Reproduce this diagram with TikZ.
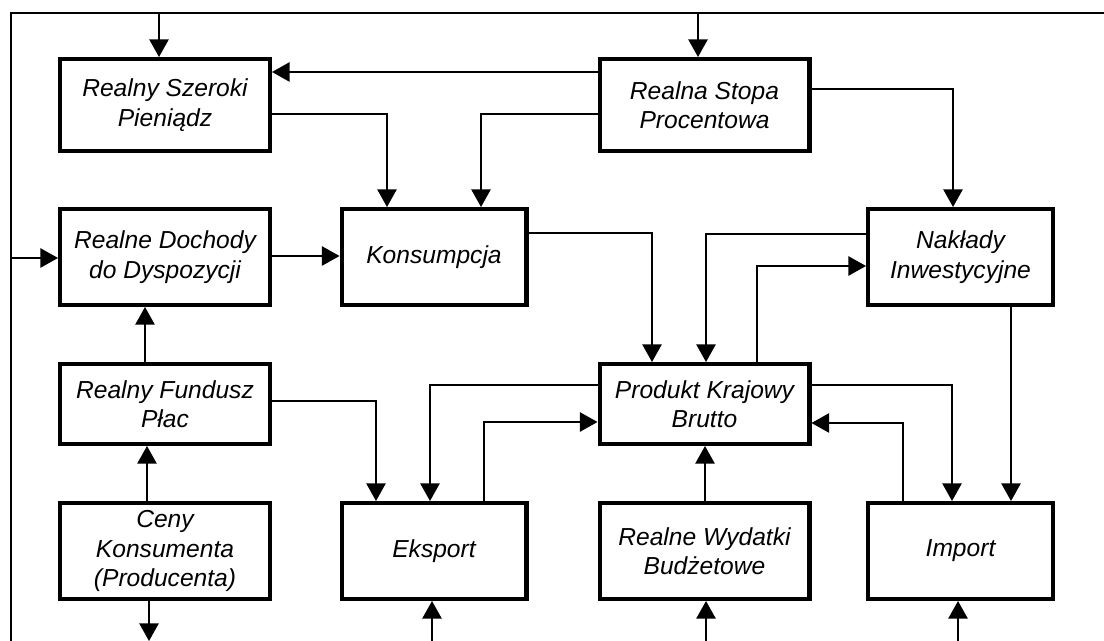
\documentclass[tikz,border=0pt]{standalone}
\usepackage{fontspec}
\setmainfont{Liberation Sans}
\usetikzlibrary{arrows.meta,calc}

\begin{document}
\begin{tikzpicture}[x=0.02cm, y=-0.02cm,
    box/.style={draw, line width=2.3pt, inner sep=0pt, align=center,
        font=\fontsize{14pt}{16.8pt}\selectfont\itshape},
    wide/.style={box, minimum width=4.2cm},
    narrow/.style={box, minimum width=3.7cm},
    arr/.style={line width=0.7pt, -{Triangle[length=10pt,width=11pt]}}]
    \useasboundingbox (0,0) rectangle (1104,641);

    % frame
    \coordinate (tl) at (11,13);
    \draw[line width=0.85pt] (1104,13) -- (tl) -- (11,641);

    % blocks
    \node[wide, minimum height=1.84cm] (rsp) at (165,105) {Realny Szeroki\\Pieniądz};
    \node[wide, minimum height=1.84cm] (rsproc) at (704.5,105) {Realna Stopa\\Procentowa};
    \node[wide, minimum height=1.92cm] (rdd) at (165,257) {Realne Dochody\\do Dyspozycji};
    \node[narrow, minimum height=1.92cm] (kons) at (434,257) {Konsumpcja};
    \node[narrow, minimum height=1.92cm] (inw) at (960.5,257) {Nakłady\\Inwestycyjne};
    \node[wide, minimum height=1.6cm] (rfp) at (165,404) {Realny Fundusz\\Płac};
    \node[wide, minimum height=1.6cm] (pkb) at (704.5,404) {Produkt Krajowy\\Brutto};
    \node[wide, minimum height=1.92cm] (ceny) at (165,551) {Ceny\\Konsumenta\\(Producenta)};
    \node[narrow, minimum height=1.92cm] (eks) at (434,551) {Eksport};
    \node[wide, minimum height=1.92cm] (rwb) at (704.5,551) {Realne Wydatki\\Budżetowe};
    \node[narrow, minimum height=1.92cm] (imp) at (960.5,551) {Import};

    % inputs from the frame
    \draw[arr] (tl -| 159,0) -- (rsp.north -| 159,0);
    \draw[arr] (tl -| 698,0) -- (rsproc.north -| 698,0);
    \draw[arr] (tl |- 0,258) -- (rdd.west |- 0,258);

    % links
    \draw[arr] (rsproc.west |- 0,72) -- (rsp.east |- 0,72);
    \draw[arr] (rsp.east |- 0,114) -| (kons.north -| 387,0);
    \draw[arr] (rsproc.west |- 0,114) -| (kons.north -| 481,0);
    \draw[arr] (rsproc.east |- 0,89) -| (inw.north -| 953,0);
    \draw[arr] (rdd.east |- 0,256) -- (kons.west |- 0,256);
    \draw[arr] (rfp.north -| 145,0) -- (rdd.south -| 145,0);
    \draw[arr] (ceny.north -| 147,0) -- (rfp.south -| 147,0);
    \draw[arr] (kons.east |- 0,233) -| (pkb.north -| 652,0);
    \draw[arr] (inw.west |- 0,234) -| (pkb.north -| 706,0);
    \draw[arr] (pkb.north -| 757,0) |- (inw.west |- 0,266);
    \draw[arr] (inw.south -| 1011,0) -- (imp.north -| 1011,0);
    \draw[arr] (pkb.east |- 0,385) -| (imp.north -| 952,0);
    \draw[arr] (imp.north -| 903,0) |- (pkb.east |- 0,423);
    \draw[arr] (pkb.west |- 0,385) -| (eks.north -| 430,0);
    \draw[arr] (eks.north -| 484,0) |- (pkb.west |- 0,422);
    \draw[arr] (rfp.east |- 0,401) -| (eks.north -| 376,0);
    \draw[arr] (rwb.north -| 705,0) -- (pkb.south -| 705,0);

    % outputs and inputs at the bottom
    \draw[arr] (ceny.south -| 149,0) -- (149,641);
    \draw[arr] (432,641) -- (eks.south -| 432,0);
    \draw[arr] (706,641) -- (rwb.south -| 706,0);
    \draw[arr] (958,641) -- (imp.south -| 958,0);
\end{tikzpicture}
\end{document}
